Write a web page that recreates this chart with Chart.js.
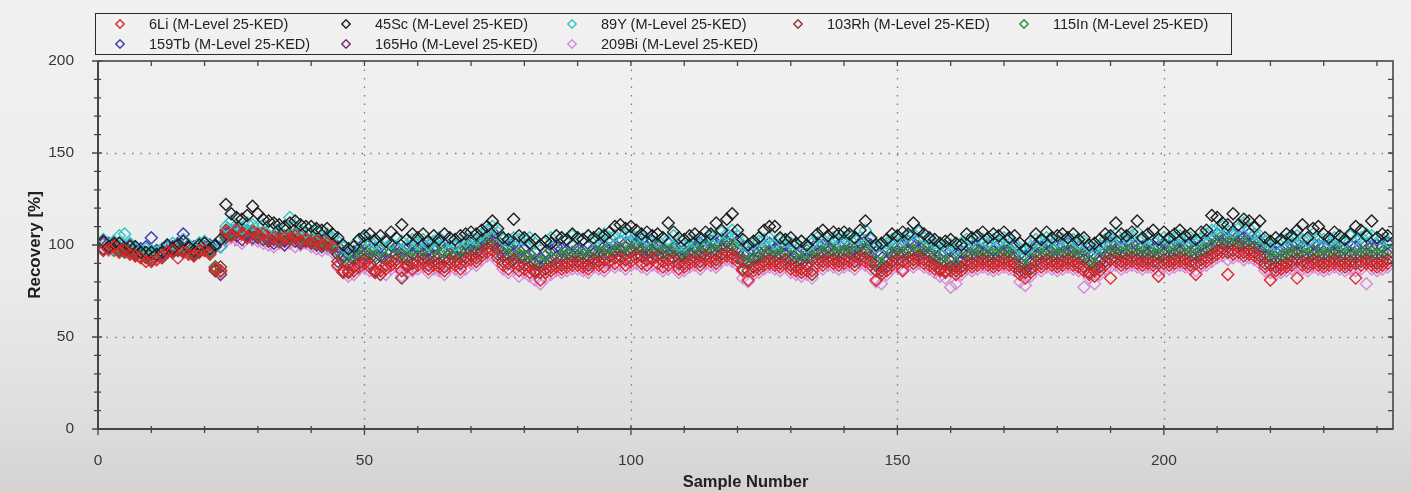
<!DOCTYPE html>
<html>
<head>
<meta charset="utf-8">
<script src="https://cdn.jsdelivr.net/npm/chart.js@4.4.1/dist/chart.umd.min.js"></script>
<style>
html,body{margin:0;padding:0;}
body{width:1411px;height:492px;overflow:hidden;position:relative;
  background:linear-gradient(to bottom,#f1f1f1 0%,#ececec 55%,#dedede 85%,#d3d3d3 100%);
  font-family:"Liberation Sans",Arial,sans-serif;}
#chart{position:absolute;left:0;top:0;}
#legend{position:absolute;left:95px;top:13px;width:1135px;height:40px;border:1px solid #2b2b2b;}
.item{position:absolute;font-size:14.5px;color:#222;white-space:nowrap;line-height:16px;}
.item svg{position:absolute;left:-34px;top:3px;}
</style>
</head>
<body>
<canvas id="chart" width="1411" height="492"></canvas>
<div id="legend"></div>
<script>
// Serien (Reihenfolge wie in der Legende)
const seriesNames = ["6Li (M-Level 25-KED)", "45Sc (M-Level 25-KED)", "89Y (M-Level 25-KED)", "103Rh (M-Level 25-KED)",
  "115In (M-Level 25-KED)", "159Tb (M-Level 25-KED)", "165Ho (M-Level 25-KED)", "209Bi (M-Level 25-KED)"];
const seriesColors = ["#e0262a", "#1e1e1e", "#33c6c6", "#8c3434", "#2f8f3a", "#3b3bb0", "#6e2e70", "#d48ad8"];

// Recovery [%] je Probe 1..242
const li6 = [97,98,99,96,97,95,94,93,91,
91,92,94,96,97,93,96,95,94,97, 97,95,87,86,107,105,108,106,104,107, 105,106,103,104,102,104,103,105,102,103,
101,102,100,101,99,89,85,86,86,88, 90,88,85,86,87,89,90,86,88,87, 89,90,87,89,88,86,90,89,87,91,
92,91,94,96,97,93,89,87,90,86, 87,85,85,81,85,86,88,87,88,89, 89,88,87,90,89,88,91,90,92,89,
91,93,90,89,92,90,88,89,91,87, 88,90,91,89,92,91,90,93,94,93, 91,86,81,86,87,89,90,89,88,90,
87,86,85,86,86,90,89,91,90,89, 90,91,89,92,91,89,81,84,86,89, 90,86,91,90,92,90,89,87,86,85,
86,84,86,89,88,89,90,89,88,89, 90,89,88,84,82,85,89,88,90,89, 88,89,90,89,88,86,84,83,86,89,
82,91,89,90,91,90,89,90,89,83, 90,89,90,91,90,89,84,90,91,93, 95,96,84,95,96,94,95,94,92,88,
81,86,87,88,89,82,89,88,90,89, 88,89,90,89,88,89,82,89,90,89, 88,89,90];

const sc45 = [102,99,101,101,97,99,99,96,96,
96,95,96,100,98,100,102,99,97,100, 101,98,100,103,122,117,115,114,116,121, 117,114,113,112,111,110,112,113,111,110,
110,109,108,109,106,104,100,98,99,103, 105,106,103,105,102,107,104,111,103,106, 104,106,102,105,103,106,104,103,105,106,
107,106,108,110,113,109,104,103,114,105, 104,101,103,100,102,101,105,104,103,106, 104,103,105,104,106,105,107,110,111,109,
110,108,106,107,105,106,104,112,107,104, 103,105,106,104,107,106,112,108,114,117, 108,103,100,102,104,108,110,110,104,103,
104,101,102,100,103,106,108,105,107,106, 107,106,104,108,113,104,100,101,103,106, 105,107,106,112,108,106,104,103,101,102,
103,101,100,106,104,105,107,104,106,105, 107,104,105,101,98,102,106,103,107,104, 105,106,104,106,103,104,100,101,103,106,
105,112,106,105,107,113,104,106,108,103, 107,104,106,108,105,106,103,107,108,116, 115,112,111,117,111,114,113,110,113,104,
102,104,103,106,105,108,111,104,109,110, 106,104,107,105,103,106,110,108,105,113, 104,106,105];

const y89 = [103,100,102,105,106,101,99,97,98,
97,96,98,100,101,99,103,100,98,101, 102,99,100,99,110,113,111,109,112,111, 110,111,108,109,107,109,115,110,108,107,
107,108,105,106,104,102,99,97,100,103, 104,102,101,100,103,101,104,102,100,103, 101,103,100,102,104,101,102,100,103,102,
104,103,106,108,110,107,103,102,104,103, 103,104,101,100,102,104,105,104,103,105, 104,103,105,103,104,106,104,105,107,106,
106,104,105,103,105,102,104,103,105,100, 100,103,102,104,103,105,104,107,106,108, 105,100,99,101,102,103,104,101,103,102,
101,100,102,99,101,104,103,105,104,103, 104,105,103,104,108,103,99,100,101,103, 104,103,105,106,107,104,103,101,100,99,
100,98,101,103,102,104,103,101,103,102, 104,103,101,98,97,99,103,102,104,103, 102,103,104,103,101,102,99,98,100,103,
104,106,103,104,105,107,103,104,102,103, 104,103,104,105,103,104,102,104,106,108, 109,110,108,107,109,112,109,106,105,102,
101,100,102,103,104,105,103,102,106,104, 103,102,104,103,102,105,103,104,106,105, 104,103,102];

const rh103 = [98,99,100,97,98,96,95,96,93,
92,95,93,97,96,98,97,98,95,96, 99,96,86,88,108,106,109,107,105,108, 106,107,104,105,104,103,105,104,105,103,
102,103,101,102,100,91,86,85,88,90, 92,90,86,84,89,91,92,82,89,90, 91,92,89,91,90,88,92,91,90,93,
94,93,96,98,100,95,91,90,92,89, 89,88,86,85,87,88,90,89,90,91, 91,90,89,92,91,92,91,93,94,92,
93,95,94,92,93,94,91,92,93,90, 90,92,93,91,94,93,92,95,96,95, 93,87,86,88,89,91,92,91,90,92,
89,88,87,89,84,92,91,93,92,91, 92,93,91,94,93,91,86,86,88,91, 92,91,93,92,94,92,91,89,87,86,
88,86,88,91,90,91,92,91,90,91, 92,91,90,86,85,87,91,90,92,91, 90,91,92,91,90,88,85,86,88,91,
92,93,91,92,93,92,91,92,91,90, 92,91,92,93,92,91,90,92,93,95, 97,98,96,97,99,96,97,96,94,90,
89,88,89,90,91,92,91,90,92,91, 90,91,92,91,90,91,90,91,92,91, 90,91,92];

const in115 = [98,99,97,98,96,97,95,94,95,
93,95,94,97,96,98,97,96,95,98, 98,97,88,86,105,107,108,106,108,107, 106,105,104,105,103,105,104,106,103,104,
103,101,102,100,101,97,93,92,94,96, 97,95,94,97,93,96,98,95,94,97, 96,97,94,98,95,96,97,95,96,98,
99,98,101,103,104,100,96,95,97,95, 94,95,92,91,94,93,97,94,95,96, 96,95,94,97,96,97,98,97,98,99,
98,100,99,97,98,99,96,97,98,95, 95,97,98,96,99,98,97,100,101,100, 98,92,91,93,94,96,97,96,95,97,
94,93,92,95,94,97,96,98,97,96, 97,98,96,99,98,96,91,90,93,96, 97,96,98,97,99,97,96,94,92,91,
93,90,93,96,95,96,97,96,95,96, 97,96,95,90,89,92,96,95,97,96, 95,96,97,96,95,94,91,90,93,96,
97,98,96,97,98,97,96,97,96,95, 97,96,97,98,97,96,95,97,98,100, 102,103,101,102,103,101,102,101,99,95,
94,93,94,95,96,97,96,95,97,96, 95,96,97,96,95,96,95,96,97,96, 95,96,97];

const tb159 = [102,101,99,101,98,100,97,98,99,
104,97,95,99,98,101,106,100,99,101, 101,100,99,99,106,108,107,109,107,106, 105,106,104,103,105,102,104,106,103,104,
103,102,101,103,100,99,94,95,96,98, 101,97,98,99,96,100,99,97,98,100, 98,100,97,99,101,96,99,100,97,101,
101,100,103,105,107,102,98,99,101,97, 98,95,96,93,96,97,99,98,97,100, 98,97,99,98,100,99,101,100,102,101,
102,101,103,99,102,100,98,101,99,97, 97,100,99,101,100,102,101,103,102,105, 102,95,96,97,96,100,101,98,99,100,
98,95,96,97,96,101,100,99,102,100, 101,100,98,101,102,100,96,95,97,100, 99,100,102,101,103,99,100,98,95,96,
97,95,96,100,99,98,101,100,97,100, 101,98,99,95,94,96,100,99,101,98, 99,100,101,98,99,97,96,95,97,100,
101,100,99,102,101,100,99,101,98,99, 101,99,100,102,100,101,98,100,102,104, 106,105,104,106,105,104,106,103,102,99,
98,96,97,99,100,101,99,98,101,100, 99,100,101,99,98,100,99,101,100,99, 100,99,101];

const ho165 = [101,98,100,98,99,97,96,97,94,
95,94,96,96,99,97,98,99,96,97, 98,99,88,84,104,106,105,103,106,104, 104,103,102,101,102,100,103,102,101,102,
101,100,99,100,98,95,91,90,92,94, 95,93,92,94,92,96,95,93,92,95, 94,95,92,94,93,92,95,94,93,96,
97,96,99,101,102,98,94,93,95,93, 92,91,90,88,90,91,93,92,93,94, 94,93,92,95,94,95,94,96,97,95,
96,98,97,95,96,97,94,95,96,93, 93,95,96,94,97,96,95,98,99,98, 96,91,90,92,93,94,95,94,93,95,
92,91,90,93,92,95,94,96,95,94, 95,96,94,97,96,94,89,88,91,94, 95,94,96,95,97,95,94,92,90,89,
91,88,91,94,93,94,95,94,93,94, 95,94,93,88,87,90,94,93,95,94, 93,94,95,94,93,92,89,88,91,94,
95,96,94,95,96,95,94,95,94,93, 95,94,95,96,95,94,93,95,96,98, 100,101,99,100,101,99,100,99,97,93,
92,91,92,93,94,95,94,93,95,94, 93,94,95,94,93,94,93,94,95,94, 93,94,95];

const bi209 = [100,97,98,99,96,97,95,94,95,
94,93,95,96,98,97,96,98,95,96, 97,98,86,85,102,104,103,101,104,103, 102,101,100,99,101,100,101,99,100,101,
99,98,97,98,96,88,85,83,84,87, 88,86,85,86,84,87,88,83,85,86, 87,88,85,87,86,84,88,87,85,87,
90,89,92,94,94,91,87,85,88,83, 85,83,81,79,82,84,86,85,86,87, 87,86,85,88,87,86,89,88,89,87,
89,90,88,87,89,88,86,87,88,85, 86,88,89,87,90,89,88,91,92,91, 89,82,80,84,85,87,88,87,86,88,
85,84,83,84,82,88,87,89,88,87, 88,89,87,90,89,87,80,79,84,87, 88,87,89,88,90,88,87,85,83,82,
77,79,84,87,86,87,88,87,86,87, 88,87,86,80,78,83,87,86,88,87, 86,87,88,87,86,77,82,79,84,87,
88,89,87,88,89,88,87,88,87,86, 88,87,88,89,88,87,86,88,89,91, 93,94,92,93,94,92,93,92,90,86,
85,84,85,86,87,88,87,86,88,87, 86,87,88,87,86,87,86,87,79,87, 86,87,88];

const seriesValues = [li6, sc45, y89, rh103, in115, tb159, ho165, bi209];
const samples = li6.map((v, i) => i + 1); // Probennummer 1..242

const xMax = 243, yMax = 200;

// Legende als HTML
const legend = document.getElementById("legend");
seriesNames.forEach((name, i) => {
  const col = i % 5, row = Math.floor(i / 5);
  const el = document.createElement("div");
  el.className = "item";
  el.style.left = (53 + 226 * col) + "px";
  el.style.top = (2 + 20 * row) + "px";
  el.innerHTML = `<svg width="10" height="10" viewBox="0 0 10 10"><polygon points="5,0.8 9.2,5 5,9.2 0.8,5" fill="none" stroke="${seriesColors[i]}" stroke-width="1.4"/></svg>${name}`;
  legend.appendChild(el);
});

// Rahmen, gepunktetes Gitter und Teilstriche
const frame = {
  id: "frame",
  beforeDatasetsDraw(chart) {
    const { ctx, chartArea: a, scales: { x, y } } = chart;
    ctx.save();
    ctx.strokeStyle = "#7a7a7a";
    ctx.lineWidth = 1.3;
    ctx.setLineDash([1.5, 7]);
    ctx.beginPath();
    for (let v = 50; v < xMax; v += 50) {
      const px = Math.round(x.getPixelForValue(v)) + 0.5;
      ctx.moveTo(px, a.top); ctx.lineTo(px, a.bottom);
    }
    for (let v = 50; v < yMax; v += 50) {
      const py = Math.round(y.getPixelForValue(v)) + 0.5;
      ctx.moveTo(a.left, py); ctx.lineTo(a.right, py);
    }
    ctx.stroke();
    ctx.restore();
  },
  afterDraw(chart) {
    const { ctx, chartArea: a, scales: { x, y } } = chart;
    ctx.save();
    ctx.strokeStyle = "#454545";
    ctx.lineWidth = 1.6;
    ctx.strokeRect(a.left, a.top, a.right - a.left, a.bottom - a.top);
    ctx.lineWidth = 2;
    ctx.beginPath();
    ctx.moveTo(a.left, a.bottom); ctx.lineTo(a.right, a.bottom);
    ctx.moveTo(a.left, a.top); ctx.lineTo(a.left, a.bottom);
    ctx.stroke();
    ctx.lineWidth = 1.3;
    ctx.beginPath();
    for (let v = 0; v <= xMax; v += 10) {
      const px = x.getPixelForValue(v);
      const big = v % 50 === 0;
      ctx.moveTo(px, a.bottom - (big ? 4 : 3)); ctx.lineTo(px, a.bottom + (big ? 6 : 4));
      if (v > 0) { ctx.moveTo(px, a.top); ctx.lineTo(px, a.top + 5); }
    }
    for (let v = 0; v <= yMax; v += 10) {
      const py = y.getPixelForValue(v);
      const big = v % 50 === 0;
      ctx.moveTo(a.left - (big ? 6 : 4), py); ctx.lineTo(a.left + (big ? 4 : 3), py);
      if (v > 0 && v < yMax) { ctx.moveTo(a.right - 5, py); ctx.lineTo(a.right, py); }
    }
    ctx.stroke();
    ctx.restore();
  }
};

const datasets = seriesNames.map((name, i) => ({
  label: name,
  data: samples.map((s, k) => ({ x: s, y: seriesValues[i][k] })),
  borderColor: seriesColors[i],
  backgroundColor: "rgba(0,0,0,0)",
  pointStyle: "rectRot",
  pointRadius: 6,
  pointBorderWidth: 1.4,
  showLine: false
}));

new Chart(document.getElementById("chart"), {
  type: "scatter",
  data: { datasets },
  plugins: [frame],
  options: {
    responsive: false,
    animation: false,
    layout: { padding: { top: 61, right: 18, left: 0, bottom: 0 } },
    plugins: { legend: { display: false }, tooltip: { enabled: false } },
    scales: {
      x: {
        type: "linear", min: 0, max: xMax,
        afterFit(s) { s.height = 63; },
        grid: { display: false },
        border: { display: false },
        ticks: {
          stepSize: 50, autoSkip: false, maxRotation: 0, padding: 14,
          color: "#383838", font: { family: "Liberation Sans", size: 15.5 },
          callback: v => v % 50 === 0 ? v : ""
        },
        title: { display: true, text: "Sample Number", color: "#202020",
          font: { family: "Liberation Sans", size: 16.5, weight: "bold" }, padding: { top: 0, bottom: 0 } }
      },
      y: {
        min: 0, max: yMax,
        afterFit(s) { s.width = 98; },
        grid: { display: false },
        border: { display: false },
        ticks: {
          stepSize: 50, padding: 16,
          color: "#383838", font: { family: "Liberation Sans", size: 15.5 }
        },
        title: { display: true, text: "Recovery [%]", color: "#202020",
          font: { family: "Liberation Sans", size: 17, weight: "bold" }, padding: { top: 25, bottom: 0 } }
      }
    }
  }
});
</script>
</body>
</html>
